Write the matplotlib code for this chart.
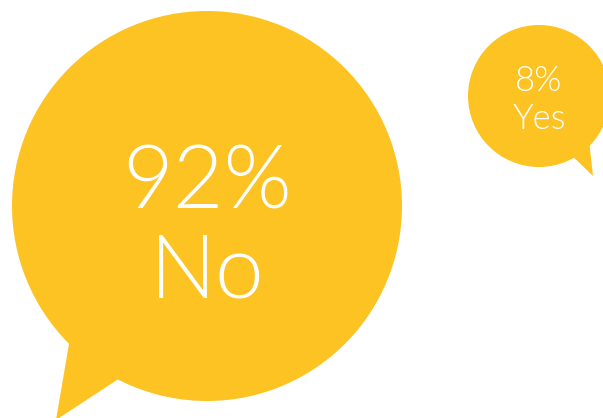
import matplotlib.pyplot as plt
from matplotlib.patches import Circle, Polygon

labels = ["No", "Yes"]
values = [92, 8]

yellow = "#FDC323"
font = "Lato"

# bubble layout in pixel coords: centre x, centre y, radius, tail points
bubbles = [
    dict(cx=207, cy=206, r=195, tail=[(70, 338), (56, 420), (120, 378)],
         fs=63, dy1=-22, dy2=67),
    dict(cx=539, cy=96, r=71, tail=[(566, 150), (593, 176), (589, 140)],
         fs=25, dy1=-15, dy2=23),
]

fig = plt.figure(figsize=(6.03, 4.18), dpi=100)
ax = fig.add_axes([0, 0, 1, 1])
ax.set_xlim(0, 603)
ax.set_ylim(418, 0)
ax.set_aspect("equal")
ax.axis("off")

for lab, val, b in zip(labels, values, bubbles):
    ax.add_patch(Circle((b["cx"], b["cy"]), b["r"], color=yellow, lw=0))
    ax.add_patch(Polygon(b["tail"], closed=True, color=yellow, lw=0))
    ax.text(b["cx"], b["cy"] + b["dy1"], f"{val}%", color="white",
            fontsize=b["fs"], family=font, fontweight=300,
            ha="center", va="center")
    ax.text(b["cx"], b["cy"] + b["dy2"], lab, color="white",
            fontsize=b["fs"], family=font, fontweight=300,
            ha="center", va="center")

fig.savefig("out.png", dpi=100)
